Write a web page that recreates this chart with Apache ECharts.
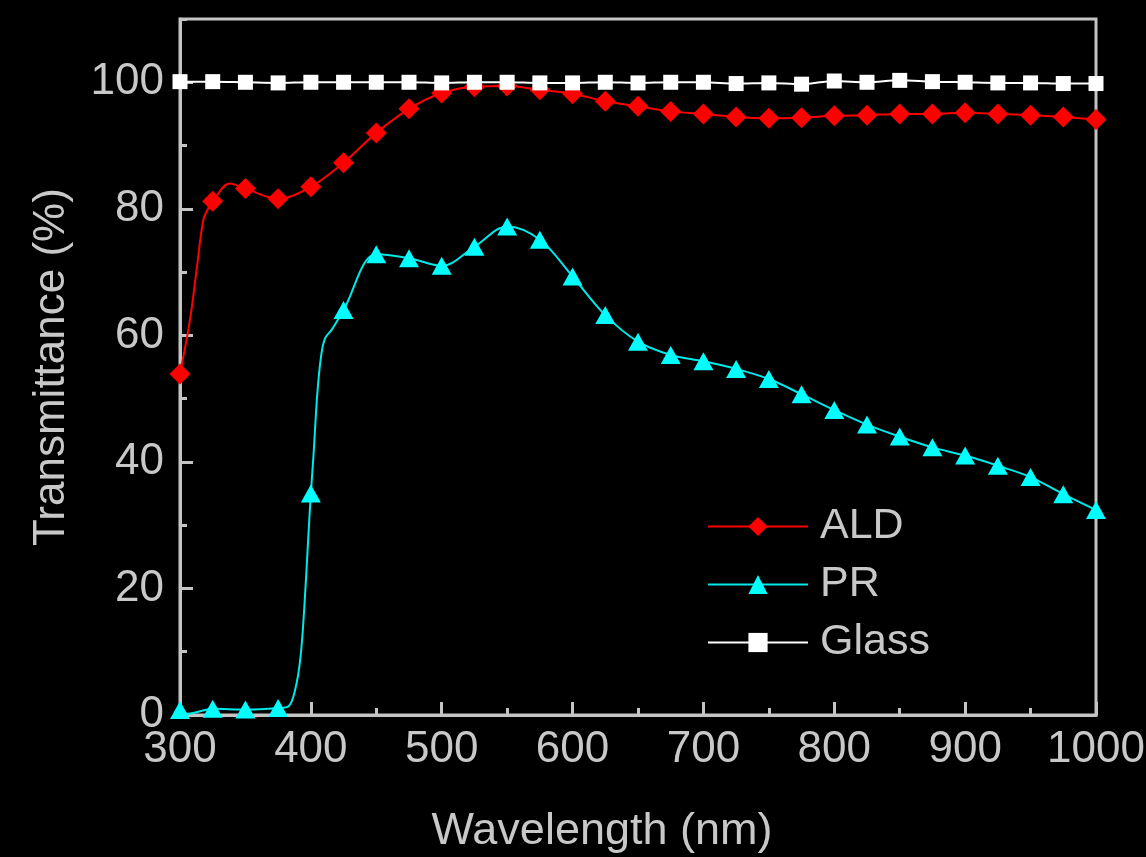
<!DOCTYPE html>
<html>
<head>
<meta charset="utf-8">
<script src="https://cdn.jsdelivr.net/npm/echarts@6/dist/echarts.min.js"></script>
<style>
html,body{margin:0;padding:0;background:#000;}
#chart{width:1146px;height:857px;}
</style>
</head>
<body>
<div id="chart"></div>
<script>
// Marker wavelengths (nm)
var wavelengths = [300,325,350,375,400,425,450,475,500,525,550,575,600,625,650,675,700,725,750,775,800,825,850,875,900,925,950,975,1000];
// Transmittance (%) at marker wavelengths
var aldValues = [53.9,81.2,83.2,81.6,83.5,87.3,92.0,95.8,98.3,99.3,99.4,98.8,98.2,97.0,96.2,95.4,95.0,94.5,94.3,94.4,94.7,94.8,95.0,95.0,95.2,95.0,94.8,94.5,94.1];
var prValues = [0.8,1.0,0.85,1.1,35,64.0,72.8,72.2,71.0,74.0,77.2,75.1,69.3,63.2,59.0,56.9,55.9,54.7,53.1,50.7,48.2,45.9,44.0,42.3,41.0,39.4,37.6,34.9,32.4];
var glassValues = [100.1,100.1,100.0,99.9,100.0,100.0,100.0,100.0,99.9,100.0,100.0,99.9,99.9,100.0,99.9,100.0,100.0,99.8,99.9,99.7,100.2,100.0,100.3,100.1,100.0,99.9,99.9,99.8,99.8];
// Curve readings between markers (no marker drawn)
var aldCurveX = [307.6,312.7,317.8,321.6,338];
var aldCurveY = [62.4,70.4,78.2,80.1,84.0];
var prCurveX = [306,383,388,392,395,398,402,405,408,411,416];
var prCurveY = [0.2,1.4,4.0,9.0,17,28,41,51,57,59.6,60.9];
// Axis ticks
var xTicks = [300,400,500,600,700,800,900,1000];
var yTicks = [0,20,40,60,80,100];

function build(xs, ys, cx, cy) {
  var d = [];
  for (var i = 0; i < xs.length; i++) d.push({value:[xs[i], ys[i]]});
  for (var j = 0; j < cx.length; j++) d.push({value:[cx[j], cy[j]], symbol:'none'});
  d.sort(function(a,b){return a.value[0]-b.value[0];});
  return d;
}

var axisGray = '#c4c4c4';
var textGray = '#c8c8c8';
var font = "'Liberation Sans', Arial, sans-serif";

var chart = echarts.init(document.getElementById('chart'), null, {renderer:'canvas'});
chart.setOption({
  backgroundColor:'#000000',
  animation:false,
  grid:{left:180, right:50, top:19, bottom:142, show:true, borderColor:axisGray, borderWidth:3,
        backgroundColor:'transparent', containLabel:false, outerBoundsMode:'none'},
  legend:{
    left:702, top:500, orient:'vertical',
    itemWidth:100, itemHeight:24, itemGap:15,
    textStyle:{color:textGray, fontSize:43, fontFamily:font, padding:[0,0,0,7]},
    data:['ALD','PR','Glass']
  },
  xAxis:{
    type:'value', min:300, max:1000, interval:100,
    name:'Wavelength (nm)', nameLocation:'middle', nameGap:94,
    nameTextStyle:{color:textGray, fontSize:45, fontFamily:font, padding:[0,72,0,0]},
    axisLine:{show:true, lineStyle:{color:axisGray, width:3}},
    axisTick:{show:true, inside:true, length:13, lineStyle:{color:axisGray, width:3}},
    minorTick:{show:true, splitNumber:2, length:7, lineStyle:{color:axisGray, width:3}},
    axisLabel:{color:textGray, fontSize:44, fontFamily:font, margin:13,
      formatter:function(v){return xTicks.indexOf(v)>=0 ? String(v) : '';}},
    splitLine:{show:false}, minorSplitLine:{show:false}
  },
  yAxis:[{
    type:'value', min:0, max:110, interval:20,
    name:'Transmittance (%)', nameLocation:'middle', nameGap:106,
    nameTextStyle:{color:textGray, fontSize:44, fontFamily:font},
    axisLine:{show:true, lineStyle:{color:axisGray, width:3}},
    axisTick:{show:true, inside:true, length:13, lineStyle:{color:axisGray, width:3}},
    axisLabel:{color:textGray, fontSize:44, fontFamily:font, margin:16, showMaxLabel:false,
      formatter:function(v){return yTicks.indexOf(v)>=0 ? String(v) : '';}},
    splitLine:{show:false}
  },{
    type:'value', min:0, max:110, interval:10, position:'left',
    axisLine:{show:false},
    axisTick:{show:true, inside:true, length:7, lineStyle:{color:axisGray, width:3}},
    axisLabel:{show:false},
    splitLine:{show:false}
  }],
  series:[{
    name:'ALD', type:'line', smooth:0.35, yAxisIndex:0,
    symbol:'diamond', symbolSize:[21,21],
    lineStyle:{color:'#ff0000', width:2},
    itemStyle:{color:'#ff0000'},
    data:build(wavelengths, aldValues, aldCurveX, aldCurveY)
  },{
    name:'PR', type:'line', smooth:0.35, yAxisIndex:0,
    symbol:'triangle', symbolSize:[20,18],
    lineStyle:{color:'#00e8e8', width:2},
    itemStyle:{color:'#00ffff'},
    data:build(wavelengths, prValues, prCurveX, prCurveY)
  },{
    name:'Glass', type:'line', smooth:0.35, yAxisIndex:0,
    symbol:'rect', symbolSize:[15,15],
    lineStyle:{color:'#ffffff', width:2},
    itemStyle:{color:'#ffffff'},
    data:build(wavelengths, glassValues, [], [])
  }]
});
</script>
</body>
</html>
